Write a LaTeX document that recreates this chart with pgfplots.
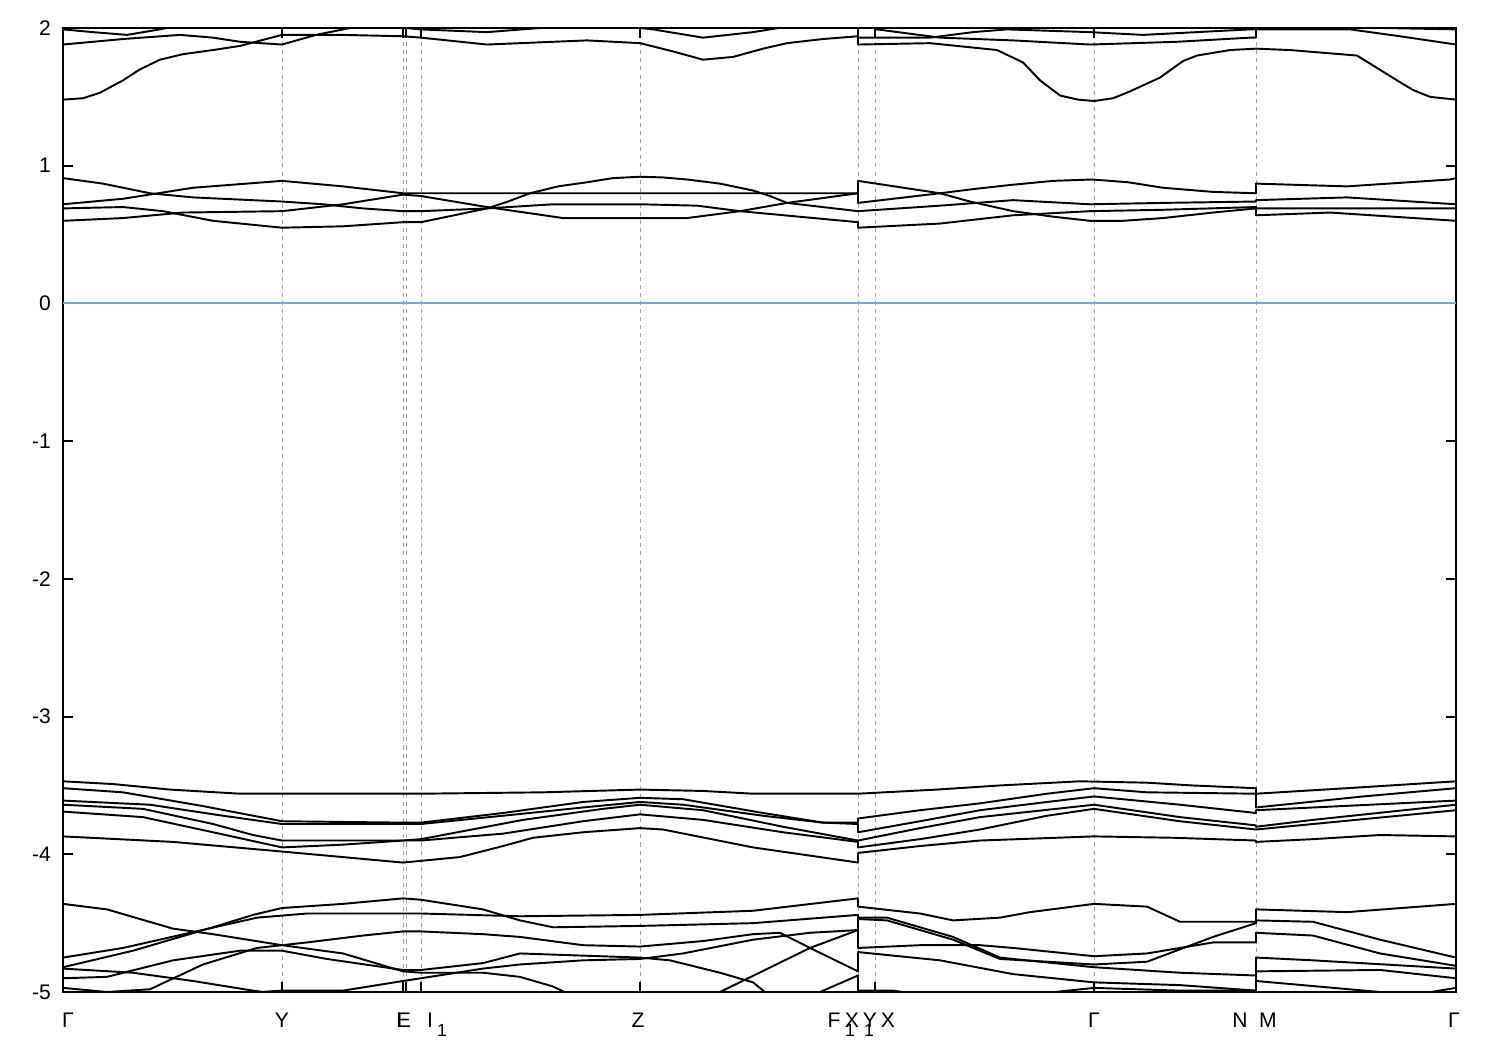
\documentclass[border=0pt]{standalone}
\usepackage{fontspec}
\setmainfont{Liberation Sans}
\usepackage{pgfplots}
\pgfplotsset{compat=1.18}
\definecolor{fermi}{RGB}{86,180,233}
\definecolor{gridgray}{RGB}{160,160,160}
\newcommand{\lbl}{\fontsize{12}{14}\selectfont}
\newcommand{\sub}{\fontsize{10}{12}\selectfont}
\begin{document}
\begin{tikzpicture}
\pgfplotsset{band/.style={black, line width=1.1pt, line join=round, mark=none}}
\begin{axis}[
    at={(0,0)}, anchor=south west,
    scale only axis, width=27.86cm, height=19.28cm,
    xmin=0, xmax=1393, ymin=-5, ymax=2,
    clip mode=individual,
    axis line style={line width=1.1pt},
    tick align=inside, major tick length=0.2cm,
    tick style={line width=1.1pt, black},
    xtick={0,219,340,343,358,577,795,812,1031,1193,1393},
    xticklabels={},
    xmajorgrids,
    grid style={gridgray, line width=0.55pt, dash pattern=on 2.3pt off 2.3pt},
    ytick={-5,-4,-3,-2,-1,0,1,2},
    yticklabels={-5,-4,-3,-2,-1,0,1,2},
    yticklabel style={font=\lbl, xshift=-0.12cm},
]
% Fermi level
\addplot[fermi, line width=1.1pt] coordinates {(0,0) (1393,0)};

% bands near 2 eV
\addplot[band] coordinates {(0,1.48)(20,1.49)(37,1.53)(60,1.62)(77,1.70)(97,1.77)(120,1.81)(150,1.84)(177,1.87)(219,1.95)(280,1.95)(340,1.94)(358,1.93)(424,1.88)(524,1.91)(577,1.89)(610,1.83)(640,1.77)(670,1.79)(700,1.85)(724,1.89)(760,1.92)(795,1.94)(795,1.88)(867,1.89)(934,1.84)(960,1.75)(977,1.62)(997,1.51)(1015,1.48)(1031,1.47)(1050,1.49)(1067,1.54)(1097,1.64)(1120,1.76)(1134,1.80)(1167,1.84)(1193,1.85)(1227,1.84)(1294,1.80)(1334,1.62)(1350,1.55)(1367,1.50)(1393,1.48)};
\addplot[band] coordinates {(0,1.88)(60,1.92)(117,1.95)(150,1.93)(177,1.90)(219,1.88)(253,1.95)(287,2.00)(330,2.01)(357,1.99)(424,1.97)(477,2.00)(540,2.02)(577,2.00)(590,1.99)(640,1.93)(690,1.97)(724,2.01)(795,2.01)(795,1.93)(867,1.93)(910,1.97)(944,1.99)(1027,1.97)(1080,1.95)(1187,1.99)(1193,1.99)(1193,2.00)(1320,2.00)(1393,1.99)};
\addplot[band] coordinates {(0,1.99)(30,1.97)(64,1.95)(97,1.99)(130,2.04)(300,2.10)(795,2.10)(795,2.06)(814,1.99)(877,1.93)(950,1.91)(1027,1.88)(1114,1.90)(1187,1.93)(1193,1.93)(1193,1.99)(1287,1.99)(1337,1.94)(1393,1.88)};

% bands near 0.7 eV
\addplot[band] coordinates {(0,0.72)(60,0.76)(130,0.84)(219,0.89)(280,0.85)(340,0.80)(358,0.80)(577,0.80)(795,0.80)(795,0.89)(877,0.80)(907,0.74)(950,0.67)(990,0.63)(1027,0.60)(1060,0.60)(1100,0.62)(1150,0.66)(1193,0.69)(1193,0.64)(1267,0.66)(1393,0.60)};
\addplot[band] coordinates {(0,0.60)(60,0.62)(120,0.66)(219,0.67)(280,0.72)(340,0.79)(358,0.78)(424,0.70)(500,0.62)(577,0.62)(624,0.62)(677,0.67)(724,0.73)(795,0.80)(795,0.73)(877,0.80)(910,0.83)(947,0.86)(990,0.89)(1029,0.90)(1065,0.88)(1100,0.84)(1150,0.81)(1193,0.80)(1193,0.87)(1284,0.85)(1387,0.90)(1393,0.91)};
\addplot[band] coordinates {(0,0.69)(60,0.70)(100,0.67)(150,0.60)(219,0.55)(280,0.56)(340,0.59)(358,0.59)(424,0.69)(445,0.74)(467,0.80)(495,0.85)(524,0.88)(550,0.91)(577,0.92)(600,0.915)(624,0.90)(657,0.87)(690,0.82)(707,0.78)(724,0.73)(795,0.67)(877,0.71)(950,0.75)(1027,0.72)(1100,0.73)(1193,0.74)(1193,0.75)(1284,0.77)(1393,0.72)};
\addplot[band] coordinates {(0,0.91)(40,0.87)(87,0.80)(130,0.77)(219,0.74)(260,0.72)(300,0.69)(340,0.67)(358,0.67)(424,0.69)(490,0.72)(577,0.72)(634,0.71)(677,0.67)(795,0.59)(795,0.55)(877,0.58)(950,0.64)(1027,0.67)(1100,0.68)(1193,0.70)(1193,0.69)(1393,0.69)};

% bands near -3.7 eV
\addplot[band] coordinates {(0,-3.47)(50,-3.49)(107,-3.53)(177,-3.56)(358,-3.56)(480,-3.55)(577,-3.53)(640,-3.54)(690,-3.56)(795,-3.56)(874,-3.53)(937,-3.50)(1017,-3.47)(1084,-3.48)(1129,-3.50)(1193,-3.52)(1193,-3.56)(1284,-3.52)(1393,-3.47)};
\addplot[band] coordinates {(0,-3.52)(60,-3.55)(140,-3.65)(219,-3.76)(340,-3.77)(358,-3.77)(440,-3.70)(520,-3.62)(577,-3.59)(620,-3.60)(700,-3.70)(760,-3.77)(795,-3.77)(795,-3.74)(857,-3.68)(917,-3.63)(984,-3.56)(1031,-3.52)(1084,-3.55)(1193,-3.56)(1193,-3.66)(1300,-3.58)(1393,-3.52)};
\addplot[band] coordinates {(0,-3.61)(87,-3.64)(160,-3.72)(219,-3.78)(340,-3.78)(358,-3.78)(440,-3.72)(520,-3.66)(577,-3.62)(620,-3.64)(700,-3.72)(760,-3.77)(795,-3.78)(795,-3.84)(857,-3.76)(917,-3.68)(984,-3.62)(1031,-3.58)(1117,-3.64)(1193,-3.70)(1193,-3.68)(1393,-3.61)};
\addplot[band] coordinates {(0,-3.64)(80,-3.67)(150,-3.78)(190,-3.86)(219,-3.90)(340,-3.90)(358,-3.89)(460,-3.75)(540,-3.67)(577,-3.64)(640,-3.68)(720,-3.80)(795,-3.90)(857,-3.81)(917,-3.73)(1031,-3.64)(1117,-3.73)(1193,-3.79)(1193,-3.80)(1250,-3.75)(1393,-3.64)};
\addplot[band] coordinates {(0,-3.69)(80,-3.73)(150,-3.84)(219,-3.95)(280,-3.93)(340,-3.90)(358,-3.90)(440,-3.85)(520,-3.76)(577,-3.71)(640,-3.75)(720,-3.84)(795,-3.91)(795,-3.95)(857,-3.89)(917,-3.82)(984,-3.72)(1031,-3.67)(1117,-3.76)(1193,-3.82)(1393,-3.68)};
\addplot[band] coordinates {(0,-3.87)(110,-3.91)(219,-3.98)(340,-4.06)(397,-4.02)(440,-3.94)(470,-3.88)(520,-3.84)(577,-3.81)(600,-3.82)(690,-3.95)(795,-4.06)(795,-3.99)(857,-3.94)(917,-3.90)(1031,-3.87)(1110,-3.88)(1193,-3.90)(1193,-3.91)(1250,-3.89)(1317,-3.86)(1393,-3.87)};

% bands near -4.6 eV
\addplot[band] coordinates {(0,-4.75)(60,-4.68)(127,-4.57)(194,-4.46)(244,-4.43)(300,-4.43)(340,-4.43)(358,-4.43)(457,-4.45)(577,-4.44)(690,-4.41)(795,-4.32)(795,-4.38)(857,-4.43)(890,-4.48)(937,-4.46)(967,-4.42)(1031,-4.36)(1084,-4.38)(1117,-4.49)(1193,-4.49)(1193,-4.40)(1284,-4.42)(1393,-4.36)};
\addplot[band] coordinates {(0,-4.82)(70,-4.70)(150,-4.53)(190,-4.44)(219,-4.39)(280,-4.36)(340,-4.32)(358,-4.33)(420,-4.40)(457,-4.48)(490,-4.53)(577,-4.52)(690,-4.50)(795,-4.44)(795,-4.46)(824,-4.46)(890,-4.60)(937,-4.75)(1031,-4.82)(1117,-4.86)(1193,-4.88)(1193,-4.75)(1250,-4.77)(1393,-4.83)};
\addplot[band] coordinates {(130,-5.03)(219,-4.99)(280,-4.99)(340,-4.92)(358,-4.90)(420,-4.83)(457,-4.80)(520,-4.77)(577,-4.76)(620,-4.72)(690,-4.62)(747,-4.57)(795,-4.55)(795,-4.47)(824,-4.48)(890,-4.62)(937,-4.76)(1031,-4.80)(1084,-4.78)(1150,-4.60)(1193,-4.50)(1193,-4.48)(1250,-4.49)(1317,-4.62)(1393,-4.75)};
\addplot[band] coordinates {(640,-5.03)(657,-5.00)(747,-4.68)(795,-4.55)(795,-4.68)(857,-4.66)(917,-4.66)(950,-4.68)(1031,-4.74)(1084,-4.72)(1150,-4.64)(1193,-4.64)(1193,-4.57)(1250,-4.59)(1317,-4.72)(1393,-4.81)};
\addplot[band] coordinates {(0,-4.97)(44,-5.00)(87,-4.98)(140,-4.80)(194,-4.68)(244,-4.64)(300,-4.59)(340,-4.56)(358,-4.56)(420,-4.58)(457,-4.60)(520,-4.66)(577,-4.67)(640,-4.63)(690,-4.58)(717,-4.57)(747,-4.68)(795,-4.85)(795,-4.71)(877,-4.77)(950,-4.87)(1031,-4.93)(1117,-4.95)(1193,-4.99)(1193,-4.85)(1317,-4.84)(1393,-4.90)};
\addplot[band] coordinates {(740,-5.03)(757,-5.00)(795,-4.88)(795,-4.99)(830,-4.99)(870,-5.03)(940,-5.04)(1031,-4.97)(1117,-4.99)(1193,-4.99)(1193,-4.92)(1317,-5.00)(1340,-5.02)(1360,-5.01)(1393,-4.97)};
\addplot[band] coordinates {(0,-4.36)(44,-4.40)(110,-4.54)(150,-4.58)(219,-4.66)(280,-4.72)(340,-4.85)(358,-4.86)(420,-4.86)(457,-4.89)(490,-4.96)(510,-5.03)};
\addplot[band] coordinates {(0,-4.90)(44,-4.89)(110,-4.77)(177,-4.70)(219,-4.70)(264,-4.76)(340,-4.84)(358,-4.84)(420,-4.79)(457,-4.72)(577,-4.75)(607,-4.77)(657,-4.86)(690,-4.93)(707,-5.03)};
\addplot[band] coordinates {(0,-4.83)(70,-4.86)(130,-4.92)(190,-4.99)(230,-5.03)};

% k-point labels
\begin{scope}[every node/.style={font=\lbl, anchor=center, inner sep=0pt}]
\node at (axis cs:5,-5)    [yshift=-0.56cm] {Γ};
\node at (axis cs:219,-5)  [yshift=-0.56cm] {Y};
\node at (axis cs:336,-5)  [yshift=-0.56cm] {I};
\node at (axis cs:341,-5)  [yshift=-0.56cm] {E};
\node at (axis cs:367,-5)  [yshift=-0.56cm] {I};
\node[font=\sub] at (axis cs:379,-5) [yshift=-0.76cm] {1};
\node at (axis cs:575,-5)  [yshift=-0.56cm] {Z};
\node at (axis cs:771,-5)  [yshift=-0.56cm] {F};
\node at (axis cs:789,-5)  [yshift=-0.56cm] {X};
\node[font=\sub] at (axis cs:787,-5) [yshift=-0.76cm] {1};
\node at (axis cs:807,-5)  [yshift=-0.56cm] {Y};
\node[font=\sub] at (axis cs:806,-5) [yshift=-0.76cm] {1};
\node at (axis cs:825,-5)  [yshift=-0.56cm] {X};
\node at (axis cs:1031,-5) [yshift=-0.56cm] {Γ};
\node at (axis cs:1177,-5) [yshift=-0.56cm] {N};
\node at (axis cs:1205,-5) [yshift=-0.56cm] {M};
\node at (axis cs:1391,-5) [yshift=-0.56cm] {Γ};
\end{scope}
\end{axis}
\pgfresetboundingbox
\path[use as bounding box] (-1.26,-1.16) rectangle (28.74,19.84);
\end{tikzpicture}
\end{document}
